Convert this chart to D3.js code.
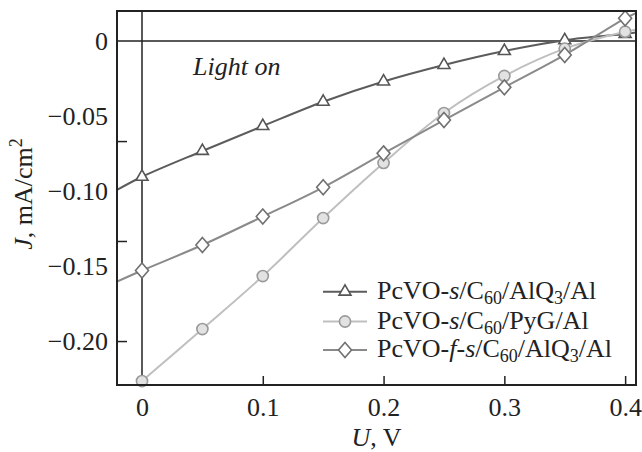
<!DOCTYPE html>
<html>
<head>
<meta charset="utf-8">
<script src="https://cdn.jsdelivr.net/npm/d3@7"></script>
<style>
  body { margin: 0; background: #fff; }
  svg text { font-family: "Liberation Serif", "Times New Roman", serif; fill: #222; }
</style>
</head>
<body>
<div id="the_chart"></div>
<script>
// data
var voltage = [0, 0.05, 0.1, 0.15, 0.2, 0.25, 0.3, 0.35, 0.4];
var alq = [-0.0905, -0.0733, -0.0567, -0.0405, -0.027, -0.016, -0.0067, 0.0005, 0.0047];
var pyg = [-0.2267, -0.192, -0.1567, -0.118, -0.0813, -0.048, -0.0233, -0.0051, 0.0062];
var fs = [-0.153, -0.136, -0.117, -0.0975, -0.0749, -0.0527, -0.0309, -0.0093, 0.0151];
// where the fitted lines leave the frame
var alqEnds = [[-0.0207, -0.0993], [0.409, 0.0056]];
var pygEnds = [[0, -0.2267], [0.409, 0.0075]];
var fsEnds = [[-0.0207, -0.1604], [0.409, 0.0185]];

var xTicks = [0, 0.1, 0.2, 0.3, 0.4];
var yLabels = [0, -0.05, -0.10, -0.15, -0.20];
var yTickMarks = [-0.0667, -0.1333, -0.2];

var w = 642, h = 452;
var margin = {left: 117, top: 11, right: 6, bottom: 67};

var svg = d3.select("#the_chart")
            .append("svg")
            .attr("width", w)
            .attr("height", h);

var xscale = d3.scaleLinear()
        .domain([-0.0207, 0.409])
        .range([margin.left, w - margin.right]);

var yscale = d3.scaleLinear()
        .domain([0.02, -0.2293])
        .range([margin.top, h - margin.bottom]);

var x0 = margin.left, x1 = w - margin.right;
var y0 = margin.top, y1 = h - margin.bottom;

// zero lines
svg.append("line")
  .attr("x1", x0).attr("x2", x1)
  .attr("y1", yscale(0)).attr("y2", yscale(0))
  .style("stroke", "#222").style("stroke-width", "1.5px");
svg.append("line")
  .attr("x1", xscale(0)).attr("x2", xscale(0))
  .attr("y1", y0).attr("y2", y1)
  .style("stroke", "#222").style("stroke-width", "1.5px");

// axes
var fmtY = function(d) { return d === 0 ? "0" : d3.format(".2f")(d).replace("-", "\u2013"); };

var yLab = svg.append("g")
  .attr("transform", "translate(" + x0 + ",0)")
  .call(d3.axisLeft(yscale).tickValues(yLabels).tickSize(0).tickPadding(9).tickFormat(fmtY));
yLab.select(".domain").remove();
yLab.selectAll("text").style("font-size", "26px").attr("fill", "#222").attr("dy", "0.33em");

var yMarks = svg.append("g")
  .attr("transform", "translate(" + x0 + ",0)")
  .call(d3.axisLeft(yscale).tickValues(yTickMarks).tickSize(-10).tickFormat(""));
yMarks.select(".domain").remove();
yMarks.selectAll("line").style("stroke", "#222").style("stroke-width", "1.5px");

var xAx = svg.append("g")
  .attr("transform", "translate(0," + y1 + ")")
  .call(d3.axisBottom(xscale).tickValues(xTicks).tickSize(-9).tickPadding(13)
        .tickFormat(function(d) { return d === 0 ? "0" : d3.format(".1f")(d); }));
xAx.select(".domain").remove();
xAx.selectAll("line").style("stroke", "#222").style("stroke-width", "1.5px");
xAx.selectAll("text").style("font-size", "26px").attr("fill", "#222").attr("dy", "0.71em");

// curves
var line = d3.line()
  .x(function(d) { return xscale(d[0]); })
  .y(function(d) { return yscale(d[1]); })
  .curve(d3.curveCatmullRom);

function pts(vals, ends) {
  var p = voltage.map(function(v, i) { return [v, vals[i]]; });
  if (ends[0][0] < 0) p.unshift(ends[0]);
  p.push(ends[1]);
  return p;
}

var series = [
  {name: "alq", vals: alq, ends: alqEnds, color: "#5c5c5c", stroke: "#555", fill: "#fff", shape: "tri"},
  {name: "pyg", vals: pyg, ends: pygEnds, color: "#bfbfbf", stroke: "#9a9a9a", fill: "#e2e2e2", shape: "circ"},
  {name: "fs", vals: fs, ends: fsEnds, color: "#8a8a8a", stroke: "#707070", fill: "#fff", shape: "dia"}
];

var symTri = d3.symbol().type(d3.symbolTriangle).size(62);
var symCirc = d3.symbol().type(d3.symbolCircle).size(98);
function diamondPath() { return "M0,-7.5L6.5,0L0,7.5L-6.5,0Z"; }
function shapePath(s) {
  if (s === "tri") return symTri();
  if (s === "circ") return symCirc();
  return diamondPath();
}

svg.append("clipPath").attr("id", "plotclip")
  .append("rect").attr("x", x0).attr("y", y0).attr("width", x1 - x0).attr("height", y1 - y0);

series.forEach(function(s) {
  svg.append("path")
    .datum(pts(s.vals, s.ends))
    .attr("clip-path", "url(#plotclip)")
    .attr("d", line)
    .style("fill", "none")
    .style("stroke", s.color)
    .style("stroke-width", "2px");
});

series.forEach(function(s) {
  svg.append("g").selectAll("path")
    .data(voltage.map(function(v, i) { return [v, s.vals[i]]; }))
    .enter()
    .append("path")
    .attr("d", shapePath(s.shape))
    .attr("transform", function(d) { return "translate(" + xscale(d[0]) + "," + yscale(d[1]) + ")"; })
    .style("fill", s.fill)
    .style("stroke", s.stroke)
    .style("stroke-width", "1.6px");
});

// frame
svg.append("rect")
  .attr("x", x0).attr("y", y0).attr("width", x1 - x0).attr("height", y1 - y0)
  .style("fill", "none").style("stroke", "#222").style("stroke-width", "2px");

// Light on
svg.append("text")
  .attr("x", 193).attr("y", 75)
  .style("font-size", "26px").style("font-style", "italic")
  .text("Light on");

// legend
var legRows = [
  [["PcVO-", ""], ["s", "i"], ["/C", ""], ["60", "sub"], ["/AlQ", ""], ["3", "sub"], ["/Al", ""]],
  [["PcVO-", ""], ["s", "i"], ["/C", ""], ["60", "sub"], ["/PyG/Al", ""]],
  [["PcVO-", ""], ["f", "i"], ["-", ""], ["s", "i"], ["/C", ""], ["60", "sub"], ["/AlQ", ""], ["3", "sub"], ["/Al", ""]]
];
var legY = [291.7, 321.5, 350];

series.forEach(function(s, i) {
  var g = svg.append("g");
  g.append("line")
    .attr("x1", 323).attr("x2", 367).attr("y1", legY[i]).attr("y2", legY[i])
    .style("stroke", s.color).style("stroke-width", "2px");
  g.append("path")
    .attr("d", shapePath(s.shape))
    .attr("transform", "translate(345," + legY[i] + ")")
    .style("fill", s.fill).style("stroke", s.stroke).style("stroke-width", "1.6px");
  var t = g.append("text")
    .attr("x", 377).attr("y", legY[i] + 7)
    .style("font-size", "26px");
  var shifted = false;
  legRows[i].forEach(function(p) {
    var sp = t.append("tspan").text(p[0]);
    if (p[1] === "i") sp.style("font-style", "italic");
    if (p[1] === "sub") {
      sp.attr("dy", 5).style("font-size", "18px");
      shifted = true;
    } else if (shifted) {
      sp.attr("dy", -5);
      shifted = false;
    }
  });
});

// axis titles
var yt = svg.append("text")
  .attr("transform", "translate(32,194) rotate(-90)")
  .attr("text-anchor", "middle")
  .style("font-size", "26px");
yt.append("tspan").style("font-style", "italic").text("J");
yt.append("tspan").text(", mA/cm");
yt.append("tspan").attr("dy", -10).style("font-size", "18px").text("2");

var xt = svg.append("text")
  .attr("x", (x0 + x1) / 2).attr("y", 446)
  .attr("text-anchor", "middle")
  .style("font-size", "26px");
xt.append("tspan").style("font-style", "italic").text("U");
xt.append("tspan").text(", V");
</script>
</body>
</html>
